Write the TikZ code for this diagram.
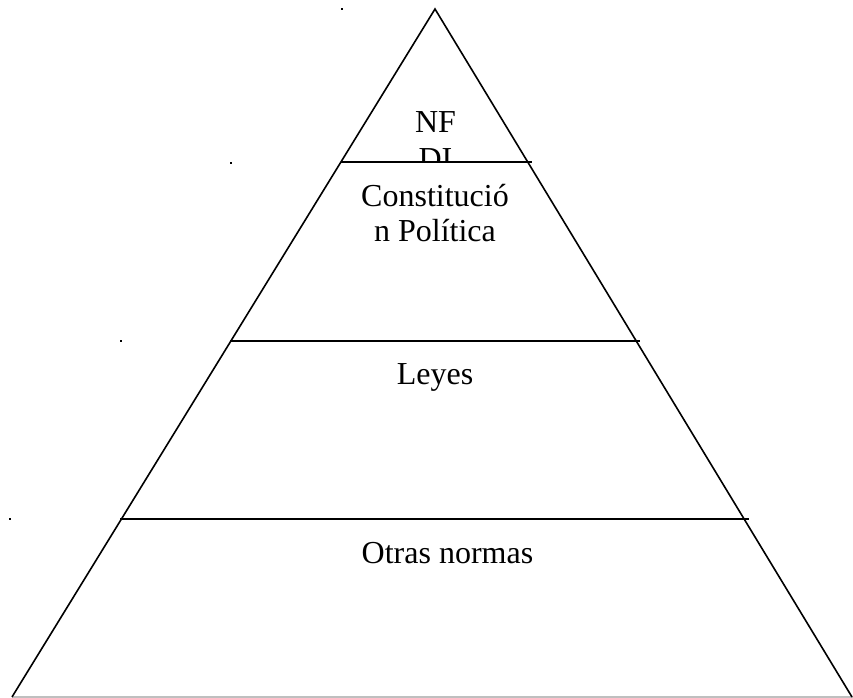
\documentclass[tikz,border=0pt]{standalone}
\usepackage{fontspec}
\setmainfont{Liberation Serif}
\begin{document}
\begin{tikzpicture}[x=0.75pt,y=-0.75pt,
  edge/.style={line width=1.2pt,line join=miter},
  label/.style={font=\fontsize{24}{26}\selectfont,inner sep=0pt,anchor=base},
  speck/.style={fill=black,inner sep=0pt,minimum size=1.5pt}]
\useasboundingbox (0,0) rectangle (853,698);
% base line
\draw[line width=1pt,color=black!25] (12,697) -- (853,697);
% pyramid
\coordinate (apex) at (435,9);
\coordinate (bl) at (12,697);
\coordinate (br) at (852,697);
\draw[edge] (bl) -- (apex) -- (br);
\coordinate (l1a) at (341,162); \coordinate (l1b) at (532,162);
\coordinate (l2a) at (230,341); \coordinate (l2b) at (640,341);
\coordinate (l3a) at (120,519); \coordinate (l3b) at (749,519);
\draw[edge] (l1a) -- (l1b);
\draw[edge] (l2a) -- (l2b);
\draw[edge] (l3a) -- (l3b);
% texts
\node[label] (nf) at (435.5,133) {NF};
\begin{scope}
\clip (0,0) rectangle (853,161);
\node[label] (di) at (435.5,170) {DI};
\end{scope}
\node[label] (c1) at (435,207) {Constitució};
\node[label] (c2) at (435,242) {n Política};
\node[label] (ley) at (435,385) {Leyes};
\node[label] (otr) at (447.5,563) {Otras normas};
% specks
\node[speck] (s1) at (342,9) {};
\node[speck] (s2) at (231,163) {};
\node[speck] (s3) at (121,341) {};
\node[speck] (s4) at (10,519) {};
\end{tikzpicture}
\end{document}
